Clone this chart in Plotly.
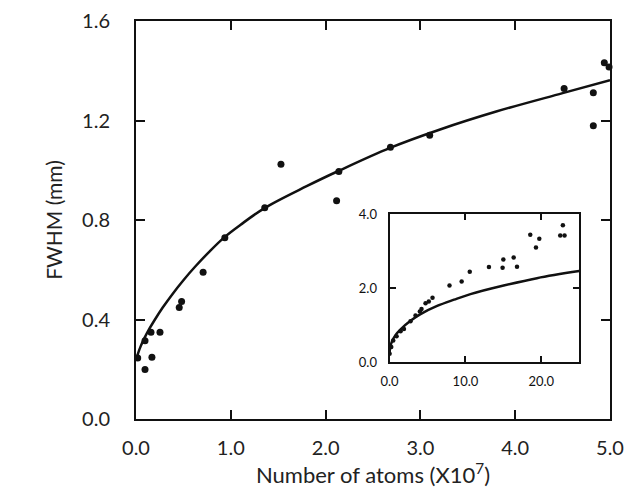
import plotly.graph_objects as go

# ---- main panel data (x in units of 1e7 atoms, FWHM in mm) ----
main_x = [0.018, 0.095, 0.095, 0.168, 0.158, 0.253, 0.456, 0.481, 0.708, 0.937,
          1.358, 1.529, 2.116, 2.14, 2.684, 3.098, 4.516, 4.824, 4.824, 4.94, 4.99]
main_y = [0.245, 0.199, 0.315, 0.248, 0.349, 0.349, 0.448, 0.472, 0.590, 0.729,
          0.849, 1.024, 0.877, 0.995, 1.092, 1.141, 1.329, 1.312, 1.179, 1.432, 1.415]

# fitted curve
fit_x = [0, 0.02, 0.05, 0.09, 0.14, 0.2, 0.28, 0.38, 0.5, 0.63, 0.78, 0.94, 1.1,
         1.36, 1.8, 2.14, 2.68, 3.2, 3.8, 4.5, 5.0]
fit_y = [0.235, 0.262, 0.293, 0.326, 0.362, 0.40, 0.447, 0.50, 0.558, 0.615, 0.675,
         0.733, 0.78, 0.849, 0.936, 0.998, 1.090, 1.163, 1.236, 1.31, 1.362]

# ---- inset data ----
inset_x = [0, 0.22, 0.48, 0.92, 1.45, 1.89, 2.76, 3.42, 3.99, 4.21, 4.74, 5.17, 5.66,
           7.9, 9.5, 10.57, 13.1, 14.9, 15.0, 16.36, 16.8, 18.55, 19.3, 19.74,
           22.5, 23.07, 22.85]
inset_y = [0.23, 0.41, 0.59, 0.70, 0.84, 0.90, 1.11, 1.26, 1.37, 1.44, 1.59, 1.64, 1.74,
           2.07, 2.18, 2.44, 2.57, 2.55, 2.77, 2.83, 2.58, 3.44, 3.10, 3.33,
           3.42, 3.42, 3.70]
inset_fit_x = [0, 0.1, 0.35, 0.8, 1.45, 2.76, 4.08, 6.27, 8.5, 10.66, 15.04, 19.43, 25.0]
inset_fit_y = [0.25, 0.42, 0.58, 0.74, 0.89, 1.12, 1.30, 1.52, 1.69, 1.84, 2.07, 2.27, 2.46]

main_xticks = [0, 1, 2, 3, 4, 5]
main_xticklabels = ["0.0", "1.0", "2.0", "3.0", "4.0", "5.0"]
main_yticks = [0, 0.4, 0.8, 1.2, 1.6]
main_yticklabels = ["0.0", "0.4", "0.8", "1.2", "1.6"]
inset_xticks = [0, 10, 20]
inset_xticklabels = ["0.0", "10.0", "20.0"]
inset_yticks = [0, 2, 4]
inset_yticklabels = ["0.0", "2.0", "4.0"]

ink = "#111111"
font_main = "Lato, 'Open Sans', sans-serif"

fig = go.Figure()
fig.add_trace(go.Scatter(x=fit_x, y=fit_y, mode="lines", line=dict(color=ink, width=2.5, shape="spline"),
                         xaxis="x", yaxis="y", showlegend=False))
fig.add_trace(go.Scatter(x=main_x, y=main_y, mode="markers", marker=dict(color=ink, size=7),
                         xaxis="x", yaxis="y", showlegend=False, cliponaxis=False))
fig.add_trace(go.Scatter(x=inset_fit_x, y=inset_fit_y, mode="lines",
                         line=dict(color=ink, width=2.5, shape="spline"),
                         xaxis="x2", yaxis="y2", showlegend=False))
fig.add_trace(go.Scatter(x=inset_x, y=inset_y, mode="markers", marker=dict(color=ink, size=4.5),
                         xaxis="x2", yaxis="y2", showlegend=False))

axis_common = dict(showgrid=False, zeroline=False, showline=True, linecolor=ink, linewidth=2,
                   mirror="allticks", ticks="inside", tickcolor=ink, tickwidth=1.5,
                   automargin=False, ticklabeloverflow="allow")

fig.update_layout(
    width=641, height=500,
    margin=dict(l=128, r=39, t=13, b=89),
    paper_bgcolor="white", plot_bgcolor="white",
    font=dict(family=font_main, color="#222222"),
    xaxis=dict(**axis_common, range=[0, 5], tickvals=main_xticks, ticktext=main_xticklabels,
               ticklen=9, tickfont=dict(size=20), ticklabelstandoff=10,
               title=dict(text="Number of atoms (X10<sup>7</sup>)", font=dict(size=22), standoff=0),
               domain=[0, 1]),
    yaxis=dict(**axis_common, range=[0, 1.6], tickvals=main_yticks, ticktext=main_yticklabels,
               ticklen=9, tickfont=dict(size=20), ticklabelstandoff=20,
               title=dict(text="FWHM (mm)", font=dict(size=21), standoff=14),
               domain=[0, 1]),
    xaxis2=dict(**axis_common, range=[0, 25], tickvals=inset_xticks, ticktext=inset_xticklabels,
                ticklen=6, tickfont=dict(size=13, color=ink), ticklabelstandoff=6,
                domain=[0.535, 0.935], anchor="y2"),
    yaxis2=dict(**axis_common, range=[0, 4], tickvals=inset_yticks, ticktext=inset_yticklabels,
                ticklen=6, tickfont=dict(size=13, color=ink), ticklabelstandoff=8,
                domain=[0.1425, 0.515], anchor="x2"),
)

fig.write_html("out.html")
